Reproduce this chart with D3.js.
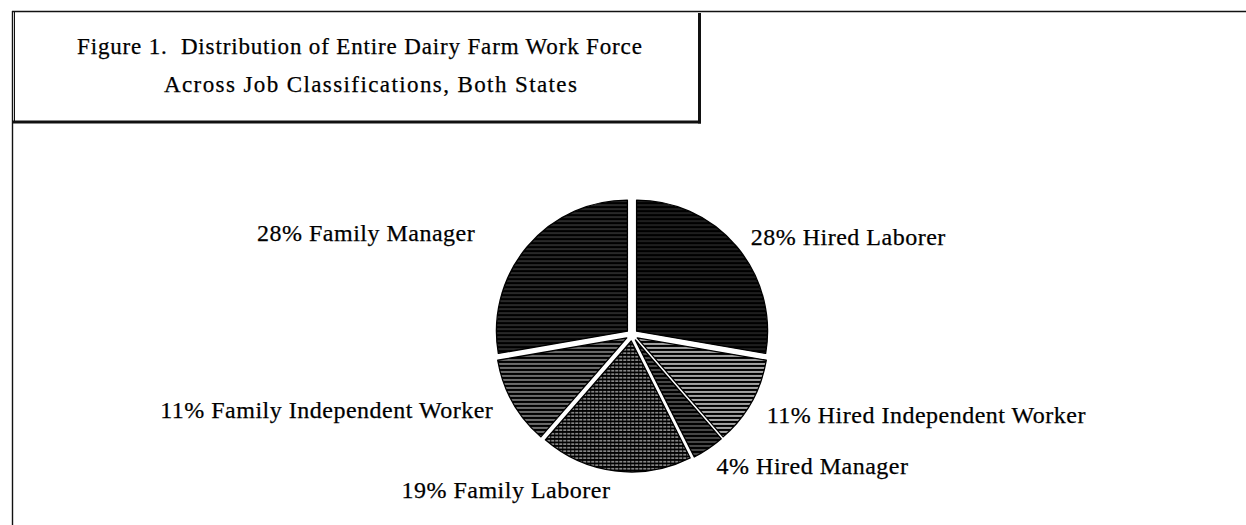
<!DOCTYPE html>
<html>
<head>
<meta charset="utf-8">
<script src="https://cdn.jsdelivr.net/npm/d3@7"></script>
<style>
  html, body { margin: 0; padding: 0; background: #fff; }
  svg { display: block; }
  text { font-family: "Liberation Serif", "Times New Roman", serif; fill: #000; stroke: #000; stroke-width: 0.25px; }
</style>
</head>
<body>
<div id="chart"></div>
<script>
// data
var categories = ['Hired Laborer', 'Hired Independent Worker', 'Hired Manager',
                  'Family Laborer', 'Family Independent Worker', 'Family Manager'];
var percents = [28, 11, 4, 19, 11, 28];
var titleLines = ['Figure 1.  Distribution of Entire Dairy Farm Work Force',
                  'Across Job Classifications, Both States'];

var width = 1246,
    height = 525,
    cx = 632,
    cy = 335,
    radius = 131,
    explode = 6,
    labelRad = 150,
    labelShift = [4, 4, 1, -3, -8, -42],   // label nudges (px) to follow the original layout
    labelDrop = [-2, 6, 6, 6, 1, -6];

var svg = d3.select('#chart')
    .append('svg')
    .attr('width', width)
    .attr('height', height);

// hatch fills, horizontal line screens like the printed original
var hatch = [
    { id: 'h0', lw: 0.6, gap: 4, op: 0.4 },
    { id: 'h1', lw: 1.5, gap: 4, op: 0.85 },
    { id: 'h2', lw: 1.0, gap: 4, op: 0.55 },
    { id: 'h3', lw: 1.5, gap: 3.5, op: 0.7, dash: '3,1' },
    { id: 'h4', lw: 1.2, gap: 4, op: 0.7 },
    { id: 'h5', lw: 0.7, gap: 4, op: 0.45 }
];
var defs = svg.append('defs');
hatch.forEach(function (h) {
    var p = defs.append('pattern')
        .attr('id', h.id)
        .attr('patternUnits', 'userSpaceOnUse')
        .attr('width', 12)
        .attr('height', h.gap);
    p.append('rect').attr('width', 12).attr('height', h.gap).attr('fill', '#000');
    p.append('line')
        .attr('x1', 0).attr('x2', 12)
        .attr('y1', h.gap / 2).attr('y2', h.gap / 2)
        .attr('stroke', '#fff')
        .attr('stroke-width', h.lw)
        .attr('stroke-opacity', h.op)
        .attr('stroke-dasharray', h.dash || null);
});

// frame
svg.append('line').attr('x1', 12).attr('x2', width).attr('y1', 11.5).attr('y2', 11.5)
    .attr('stroke', '#111').attr('stroke-width', 1.6);
svg.append('line').attr('x1', 12.5).attr('x2', 12.5).attr('y1', 11).attr('y2', height)
    .attr('stroke', '#111').attr('stroke-width', 1.4);
svg.append('line').attr('x1', 14.5).attr('x2', 14.5).attr('y1', 11).attr('y2', 122)
    .attr('stroke', '#111').attr('stroke-width', 1);

// title box
svg.append('line').attr('x1', 12).attr('x2', 701).attr('y1', 122).attr('y2', 122)
    .attr('stroke', '#111').attr('stroke-width', 3);
svg.append('line').attr('x1', 699.5).attr('x2', 699.5).attr('y1', 13).attr('y2', 123.5)
    .attr('stroke', '#111').attr('stroke-width', 3);

var title = svg.append('g').attr('class', 'title');
title.selectAll('text')
    .data(titleLines)
    .enter()
    .append('text')
    .attr('x', function (d, i) { return i === 0 ? 77 : 164; })
    .attr('y', function (d, i) { return 54 + i * 38; })
    .style('font-size', '23px')
    .style('letter-spacing', function (d, i) { return i === 0 ? '0.85px' : '1.4px'; })
    .style('white-space', 'pre')
    .text(function (d) { return d; });

// pie
var pie = d3.pie().sort(null).value(function (d) { return d; });
var arcs = pie(percents);

var arc = d3.arc()
    .innerRadius(0)
    .outerRadius(radius);

var g = svg.append('g')
    .attr('transform', 'translate(' + cx + ',' + cy + ')');

g.selectAll('path.slice')
    .data(arcs)
    .enter()
    .append('path')
    .attr('class', 'slice')
    .attr('d', arc)
    .attr('transform', function (d) {
        var a = (d.startAngle + d.endAngle) / 2;
        return 'translate(' + explode * Math.sin(a) + ',' + (-explode * Math.cos(a)) + ')';
    })
    .attr('fill', function (d, i) { return 'url(#' + hatch[i].id + ')'; })
    .attr('stroke', '#000')
    .attr('stroke-width', 1.3)
    .attr('stroke-linejoin', 'round');

g.selectAll('text.label')
    .data(arcs)
    .enter()
    .append('text')
    .attr('class', 'label')
    .attr('x', function (d, i) {
        var a = (d.startAngle + d.endAngle) / 2;
        return labelRad * Math.sin(a) + labelShift[i];
    })
    .attr('y', function (d, i) {
        var a = (d.startAngle + d.endAngle) / 2;
        return -labelRad * Math.cos(a) + labelDrop[i];
    })
    .attr('dy', '0.35em')
    .attr('text-anchor', function (d) {
        return Math.sin((d.startAngle + d.endAngle) / 2) >= 0 ? 'start' : 'end';
    })
    .style('font-size', '24px')
    .style('letter-spacing', '0.5px')
    .text(function (d, i) { return percents[i] + '% ' + categories[i]; });
</script>
</body>
</html>
